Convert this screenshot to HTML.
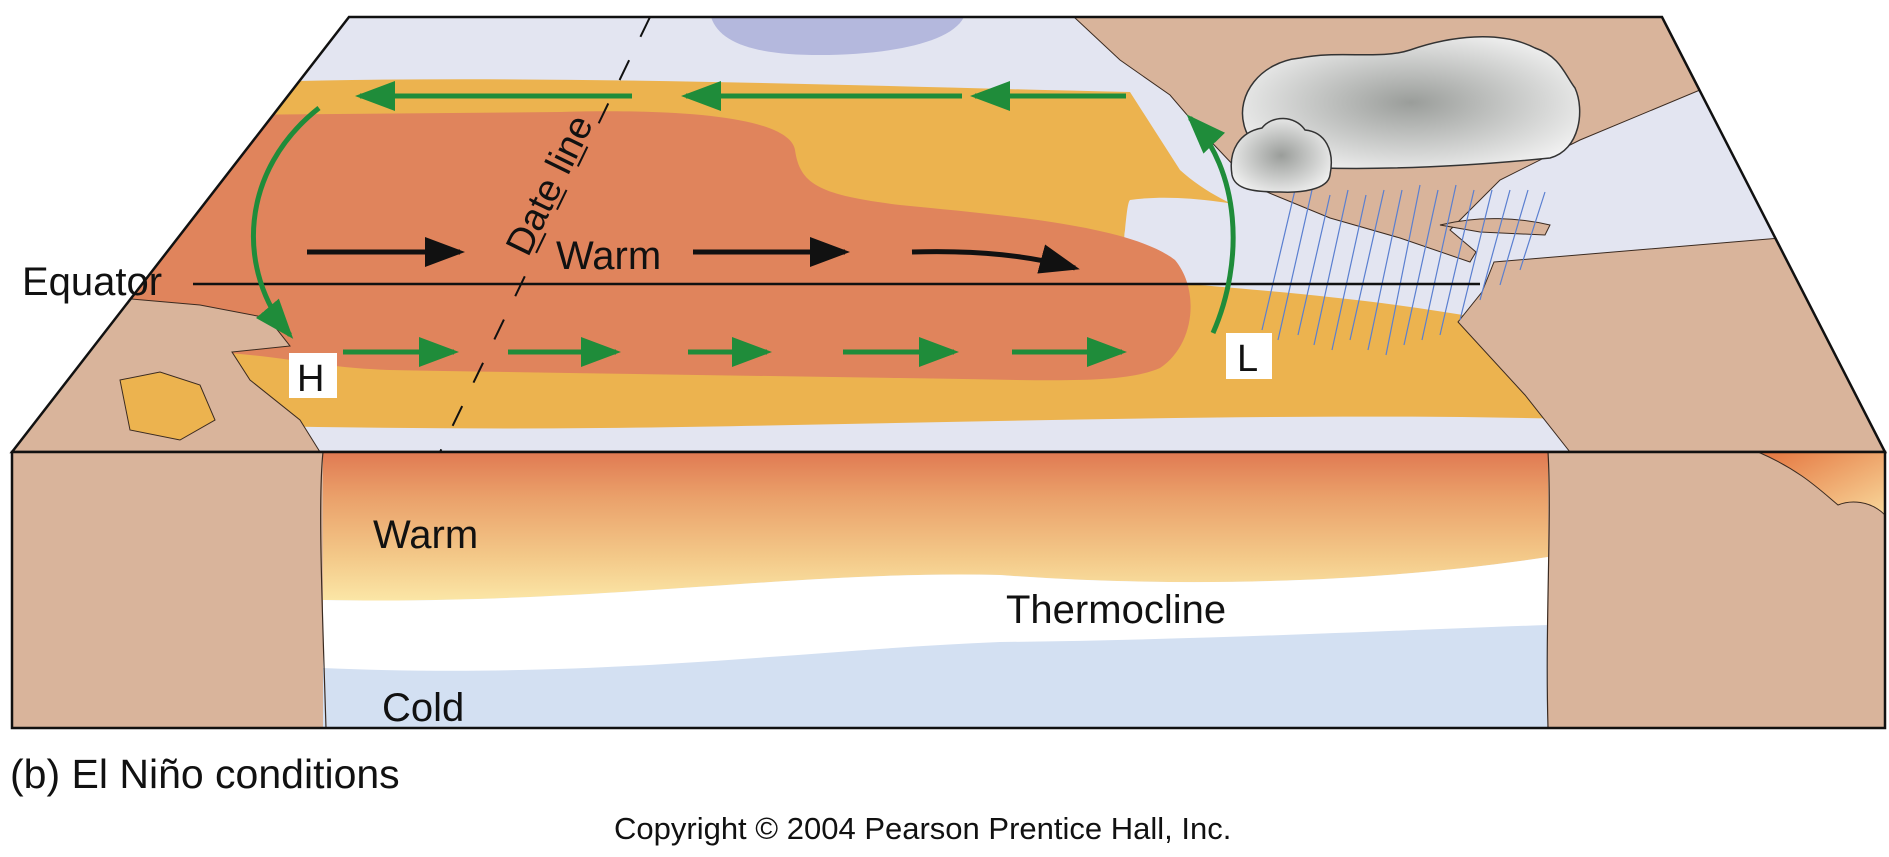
<!DOCTYPE html>
<html><head><meta charset="utf-8"><style>
html,body{margin:0;padding:0;background:#fff;}
svg{display:block;}
text{font-family:"Liberation Sans",sans-serif;fill:#111;}
</style></head><body>
<svg width="1889" height="857" viewBox="0 0 1889 857" xmlns="http://www.w3.org/2000/svg">
<defs>
<linearGradient id="warm" x1="0" y1="0" x2="0" y2="1">
<stop offset="0" stop-color="#e07a52"/>
<stop offset="0.3" stop-color="#eaa06a"/>
<stop offset="0.7" stop-color="#f3c888"/>
<stop offset="1" stop-color="#fbe6a6"/>
</linearGradient>
<radialGradient id="cloud" cx="0.5" cy="0.5" r="0.6">
<stop offset="0" stop-color="#9a9d9a"/>
<stop offset="1" stop-color="#f4f4f4"/>
</radialGradient>
<linearGradient id="corner" x1="0" y1="0" x2="1" y2="1">
<stop offset="0" stop-color="#e4743e"/><stop offset="1" stop-color="#f8d79a"/>
</linearGradient>
<clipPath id="top"><polygon points="349,17 1662,17 1885,452 12,452"/></clipPath>
<marker id="ga" markerWidth="8" markerHeight="6" refX="7" refY="3" orient="auto" markerUnits="strokeWidth"><path d="M0,0 L8,3 L0,6 Z" fill="#1f8c3a"/></marker>
<marker id="ba" markerWidth="8" markerHeight="6" refX="7" refY="3" orient="auto" markerUnits="strokeWidth"><path d="M0,0 L8,3 L0,6 Z" fill="#111"/></marker>
</defs>

<g clip-path="url(#top)">
<rect x="0" y="0" width="1889" height="460" fill="#e3e5f1"/>
<path d="M711,17 L964,17 C950,45 880,55 820,55 C760,55 720,45 711,17 Z" fill="#b4b8dd"/>
<path d="M200,84 C500,72 850,86 1130,92 L1180,170 C1230,215 1300,230 1400,250 L1520,320 L1600,380 L1600,420 C1300,410 900,425 600,428 C400,430 200,425 0,420 L0,84 Z" fill="#ecb34f"/>
<path d="M1130,200 C1200,190 1290,215 1350,230 L1476,255 L1480,318 C1380,300 1280,292 1200,285 C1140,280 1120,255 1125,230 C1127,210 1128,202 1130,200 Z" fill="#e3e5f1"/>
<path d="M0,117 L560,112 C700,108 790,120 795,150 C800,185 820,195 900,205 C1000,215 1130,225 1175,260 C1200,290 1195,345 1160,368 C1120,385 1050,380 900,378 C700,375 500,372 390,370 C330,368 300,360 250,355 L0,330 Z" fill="#e0845c"/>
<path d="M1074,17 L1662,17 L1700,90 L1580,140 L1500,180 L1450,230 L1476,252 L1470,262 L1400,238 L1330,218 L1262,190 L1236,168 L1200,130 L1170,95 L1120,60 Z" fill="#d9b49b" stroke="#3a2a20" stroke-width="1"/>
<path d="M1494,262 L1781,238 L1885,452 L1570,452 L1525,395 L1458,322 L1482,292 Z" fill="#d9b49b" stroke="#3a2a20" stroke-width="1"/>
<path d="M120,298 L200,305 L268,318 L290,346 L232,352 L250,380 L300,420 L320,452 L0,452 L0,300 Z" fill="#d9b49b" stroke="#3a2a20" stroke-width="1"/>
<path d="M120,380 L160,372 L200,385 L215,420 L180,440 L130,430 Z" fill="#ecb34f" stroke="#3a2a20" stroke-width="1"/>
<path d="M1440,225 C1480,215 1520,218 1550,225 L1545,235 L1480,232 Z" fill="#d9b49b" stroke="#3a2a20" stroke-width="1"/>
<g stroke="#5a7fd0" stroke-width="1.2">
<line x1="1295" y1="190" x2="1262" y2="330"/><line x1="1312" y1="190" x2="1278" y2="340"/>
<line x1="1330" y1="195" x2="1298" y2="335"/><line x1="1348" y1="190" x2="1314" y2="345"/>
<line x1="1366" y1="195" x2="1332" y2="350"/><line x1="1384" y1="190" x2="1350" y2="340"/>
<line x1="1402" y1="190" x2="1368" y2="350"/><line x1="1420" y1="185" x2="1386" y2="355"/>
<line x1="1438" y1="190" x2="1404" y2="345"/><line x1="1456" y1="185" x2="1422" y2="340"/>
<line x1="1474" y1="190" x2="1440" y2="335"/><line x1="1492" y1="190" x2="1460" y2="320"/>
<line x1="1510" y1="190" x2="1480" y2="300"/><line x1="1528" y1="190" x2="1500" y2="285"/>
<line x1="1545" y1="192" x2="1520" y2="270"/>
</g>
</g>
<polygon points="349,17 1662,17 1885,452 12,452" fill="none" stroke="#111" stroke-width="2.5"/>

<line x1="193" y1="284" x2="1480" y2="284" stroke="#111" stroke-width="2.5"/>
<line x1="650" y1="17" x2="440" y2="452" stroke="#111" stroke-width="2" stroke-dasharray="22,26"/>

<path d="M1244,125 C1236,95 1260,62 1300,58 C1340,50 1380,60 1410,50 C1450,36 1500,30 1535,48 C1560,56 1565,75 1575,88 C1585,110 1580,150 1550,158 C1480,165 1400,170 1320,168 C1280,166 1250,150 1244,125 Z" fill="url(#cloud)" stroke="#333" stroke-width="1.5"/>
<path d="M1232,175 C1228,150 1240,132 1262,128 C1272,115 1295,115 1305,130 C1325,132 1335,150 1330,175 C1328,190 1300,193 1280,192 C1255,192 1235,190 1232,175 Z" fill="url(#cloud)" stroke="#333" stroke-width="1.5"/>

<g stroke="#1f8c3a" stroke-width="5" fill="none">
<line x1="1126" y1="96" x2="975" y2="96" marker-end="url(#ga)"/>
<line x1="962" y1="96" x2="686" y2="96" marker-end="url(#ga)"/>
<line x1="632" y1="96" x2="360" y2="96" marker-end="url(#ga)"/>
<path d="M319,108 C240,170 235,270 290,335" marker-end="url(#ga)"/>
<path d="M1213,333 C1245,260 1240,170 1190,118" marker-end="url(#ga)"/>
<line x1="343" y1="352" x2="454" y2="352" marker-end="url(#ga)"/>
<line x1="508" y1="352" x2="616" y2="352" marker-end="url(#ga)"/>
<line x1="688" y1="352" x2="767" y2="352" marker-end="url(#ga)"/>
<line x1="843" y1="352" x2="954" y2="352" marker-end="url(#ga)"/>
<line x1="1012" y1="352" x2="1122" y2="352" marker-end="url(#ga)"/>
</g>
<g stroke="#111" stroke-width="5" fill="none">
<line x1="307" y1="252" x2="460" y2="252" marker-end="url(#ba)"/>
<line x1="693" y1="252" x2="845" y2="252" marker-end="url(#ba)"/>
<path d="M912,252 C980,250 1030,256 1075,268" marker-end="url(#ba)"/>
</g>

<text x="22" y="295" font-size="40">Equator</text>
<text x="556" y="269" font-size="40">Warm</text>
<text transform="translate(528,258) rotate(-64)" font-size="38">Date line</text>
<rect x="289" y="353" width="48" height="45" fill="#fff"/>
<text x="297" y="391" font-size="38">H</text>
<rect x="1226" y="333" width="46" height="46" fill="#fff"/>
<text x="1237" y="371" font-size="38">L</text>

<rect x="12" y="452" width="1873" height="276" fill="#d9b49b"/>
<rect x="323" y="452" width="1225" height="276" fill="#d3e0f2"/>
<path d="M323,452 L1548,452 L1548,557 C1400,580 1200,590 1000,575 C800,570 600,605 323,600 Z" fill="url(#warm)"/>
<path d="M323,600 C600,605 800,570 1000,575 C1200,590 1400,580 1548,557 L1548,625 C1400,630 1200,640 1000,642 C800,650 600,680 323,668 Z" fill="#fff"/>
<path d="M323,452 C318,500 322,600 326,728" stroke="#3a2a20" stroke-width="1.2" fill="none"/>
<path d="M1548,452 C1552,520 1545,620 1548,728" stroke="#3a2a20" stroke-width="1.2" fill="none"/>
<path d="M1758,452 L1885,452 L1885,515 C1870,500 1850,500 1838,505 C1820,490 1800,470 1758,452 Z" fill="url(#corner)" stroke="#3a2a20" stroke-width="1"/>
<rect x="12" y="452" width="1873" height="276" fill="none" stroke="#111" stroke-width="2.5"/>

<text x="373" y="548" font-size="40">Warm</text>
<text x="1006" y="623" font-size="40">Thermocline</text>
<text x="382" y="721" font-size="40">Cold</text>

<text x="10" y="788" font-size="41">(b) El Niño conditions</text>
<text x="614" y="839" font-size="31">Copyright © 2004 Pearson Prentice Hall, Inc.</text>
</svg>
</body></html>
